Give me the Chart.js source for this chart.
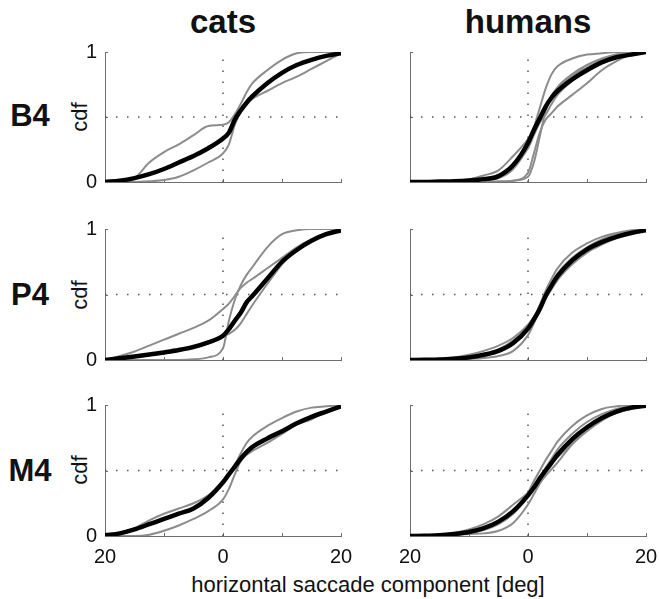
<!DOCTYPE html>
<html>
<head>
<meta charset="utf-8">
<script src="https://cdn.jsdelivr.net/npm/chart.js@4"></script>
<style>
  body { margin: 0; background: #fff; width: 659px; height: 599px; overflow: hidden; position: relative;
         font-family: "Liberation Sans", Arial, sans-serif; color: #111; }
  canvas { position: absolute; }
  .txt { position: absolute; line-height: 1; white-space: nowrap; }
  .head { font-size: 33px; font-weight: bold; width: 200px; text-align: center; }
  .row { font-size: 31px; font-weight: bold; width: 60px; text-align: center; }
  .cdf { font-size: 22px; width: 60px; text-align: center; transform: rotate(-90deg); }
</style>
</head>
<body>
<div class="txt head" style="left:123px; top:5px;">cats</div>
<div class="txt head" style="left:428px; top:5px;">humans</div>

<div class="txt row" style="left:0px; top:100px;">B4</div>
<div class="txt row" style="left:0px; top:279px;">P4</div>
<div class="txt row" style="left:0px; top:455px;">M4</div>

<div class="txt cdf" style="left:50px; top:106px;">cdf</div>
<div class="txt cdf" style="left:50px; top:284px;">cdf</div>
<div class="txt cdf" style="left:50px; top:459px;">cdf</div>

<div class="txt" style="left:168px; width:400px; text-align:center; top:574px; font-size:22px;">horizontal saccade component [deg]</div>

<canvas id="c0" width="303" height="174" style="left:60px; top:30px;"></canvas>
<canvas id="c1" width="283" height="174" style="left:385px; top:30px;"></canvas>
<canvas id="c2" width="303" height="175" style="left:60px; top:207px;"></canvas>
<canvas id="c3" width="283" height="175" style="left:385px; top:207px;"></canvas>
<canvas id="c4" width="303" height="195" style="left:60px; top:383px;"></canvas>
<canvas id="c5" width="283" height="195" style="left:385px; top:383px;"></canvas>

<script>
// saccade component [deg] where the cdf values were read
const xGrid = [-20, -17.5, -15, -12.5, -10, -7.5, -5, -2.5, 0, 1, 2, 3, 4, 5, 7.5, 10, 12.5, 15, 17.5, 20];
const xTickLabels = ['20', '', '0', '', '20'];
const yTickLabels = ['0', '', '1'];
const refX = 0;
const refY = 0.5;

// cats B4
const catsB4Mean = [0, 0.01, 0.03, 0.06, 0.10, 0.15, 0.20, 0.26, 0.335, 0.38, 0.48, 0.55, 0.61, 0.66, 0.76, 0.84, 0.90, 0.94, 0.97, 0.99];
const catsB4A = [0, 0.005, 0.03, 0.15, 0.23, 0.29, 0.36, 0.43, 0.44, 0.46, 0.52, 0.60, 0.69, 0.76, 0.86, 0.94, 0.99, 1, 1, 1];
const catsB4B = [0, 0, 0, 0.005, 0.015, 0.04, 0.09, 0.15, 0.22, 0.29, 0.44, 0.54, 0.60, 0.64, 0.70, 0.76, 0.81, 0.87, 0.93, 0.99];

// humans B4
const humB4Mean = [0, 0, 0.003, 0.006, 0.012, 0.022, 0.045, 0.13, 0.30, 0.40, 0.49, 0.58, 0.65, 0.70, 0.79, 0.86, 0.92, 0.96, 0.98, 1];
const humB4A = [0, 0, 0, 0, 0.005, 0.01, 0.03, 0.10, 0.28, 0.42, 0.57, 0.72, 0.83, 0.89, 0.95, 0.98, 0.99, 1, 1, 1];
const humB4B = [0, 0, 0, 0, 0, 0, 0, 0.01, 0.07, 0.22, 0.38, 0.48, 0.53, 0.58, 0.67, 0.76, 0.86, 0.93, 0.98, 1];
const humB4C = [0, 0, 0.005, 0.01, 0.02, 0.05, 0.09, 0.20, 0.33, 0.40, 0.46, 0.52, 0.60, 0.67, 0.78, 0.86, 0.93, 0.97, 0.99, 1];
const humB4D = [0, 0, 0, 0, 0, 0, 0.005, 0.01, 0.04, 0.15, 0.35, 0.55, 0.66, 0.72, 0.82, 0.88, 0.94, 0.98, 0.99, 1];
const humB4E = [0, 0, 0, 0.005, 0.01, 0.02, 0.04, 0.12, 0.26, 0.36, 0.46, 0.57, 0.66, 0.73, 0.83, 0.90, 0.95, 0.98, 0.99, 1];

// cats P4
const catsP4Mean = [0, 0.013, 0.027, 0.042, 0.058, 0.076, 0.10, 0.135, 0.185, 0.235, 0.30, 0.36, 0.44, 0.49, 0.62, 0.75, 0.84, 0.91, 0.96, 0.99];
const catsP4A = [0, 0.03, 0.065, 0.11, 0.155, 0.20, 0.245, 0.30, 0.39, 0.43, 0.49, 0.55, 0.59, 0.62, 0.70, 0.78, 0.86, 0.92, 0.96, 1];
const catsP4B = [0, 0, 0, 0, 0, 0, 0.005, 0.02, 0.09, 0.30, 0.46, 0.57, 0.65, 0.71, 0.86, 0.96, 0.99, 1, 1, 1];
const catsP4C = [0, 0.01, 0.02, 0.035, 0.05, 0.07, 0.09, 0.13, 0.18, 0.20, 0.23, 0.28, 0.35, 0.42, 0.58, 0.73, 0.85, 0.92, 0.97, 1];

// humans P4
const humP4Mean = [0, 0.001, 0.003, 0.01, 0.02, 0.04, 0.07, 0.13, 0.24, 0.31, 0.39, 0.49, 0.57, 0.64, 0.76, 0.845, 0.90, 0.94, 0.97, 0.99];
const humP4A = [0, 0, 0.002, 0.006, 0.015, 0.03, 0.06, 0.12, 0.24, 0.32, 0.42, 0.53, 0.62, 0.70, 0.82, 0.89, 0.94, 0.97, 0.99, 1];
const humP4B = [0, 0.005, 0.01, 0.02, 0.04, 0.07, 0.11, 0.17, 0.27, 0.33, 0.40, 0.48, 0.56, 0.63, 0.75, 0.83, 0.89, 0.94, 0.97, 0.99];
const humP4C = [0, 0, 0, 0.003, 0.008, 0.015, 0.03, 0.07, 0.19, 0.28, 0.38, 0.49, 0.58, 0.66, 0.78, 0.86, 0.92, 0.96, 0.98, 1];
const humP4D = [0, 0, 0.002, 0.008, 0.02, 0.04, 0.08, 0.15, 0.26, 0.32, 0.39, 0.47, 0.54, 0.61, 0.73, 0.82, 0.88, 0.93, 0.97, 0.99];

// cats M4
const catsM4Mean = [0.005, 0.02, 0.05, 0.09, 0.13, 0.17, 0.21, 0.29, 0.41, 0.47, 0.53, 0.59, 0.64, 0.68, 0.745, 0.80, 0.86, 0.91, 0.95, 0.99];
const catsM4A = [0, 0.02, 0.06, 0.12, 0.17, 0.21, 0.25, 0.31, 0.41, 0.47, 0.54, 0.63, 0.71, 0.76, 0.84, 0.90, 0.95, 0.98, 0.99, 1];
const catsM4B = [0, 0, 0, 0.01, 0.04, 0.08, 0.13, 0.19, 0.28, 0.36, 0.47, 0.57, 0.62, 0.65, 0.71, 0.78, 0.85, 0.89, 0.95, 0.99];

// humans M4
const humM4Mean = [0, 0.002, 0.005, 0.015, 0.03, 0.06, 0.11, 0.19, 0.31, 0.37, 0.44, 0.50, 0.56, 0.62, 0.74, 0.83, 0.90, 0.95, 0.98, 0.995];
const humM4A = [0, 0.001, 0.004, 0.012, 0.025, 0.05, 0.10, 0.18, 0.33, 0.42, 0.50, 0.58, 0.65, 0.72, 0.84, 0.92, 0.97, 0.99, 1, 1];
const humM4B = [0, 0.005, 0.01, 0.025, 0.05, 0.09, 0.15, 0.24, 0.33, 0.38, 0.43, 0.49, 0.55, 0.60, 0.71, 0.81, 0.89, 0.94, 0.97, 0.99];
const humM4C = [0, 0, 0.002, 0.006, 0.015, 0.02, 0.04, 0.10, 0.24, 0.32, 0.40, 0.46, 0.51, 0.56, 0.70, 0.80, 0.88, 0.94, 0.97, 0.99];
const humM4D = [0, 0.001, 0.003, 0.01, 0.02, 0.045, 0.09, 0.17, 0.30, 0.37, 0.45, 0.52, 0.59, 0.66, 0.78, 0.87, 0.93, 0.97, 0.99, 1];

const panels = [
    {id: 'c0', left: true, bottom: false, mean: catsB4Mean, subs: [catsB4A, catsB4B]},
    {id: 'c1', left: false, bottom: false, mean: humB4Mean, subs: [humB4A, humB4B, humB4C, humB4D, humB4E]},
    {id: 'c2', left: true, bottom: false, mean: catsP4Mean, subs: [catsP4A, catsP4B, catsP4C]},
    {id: 'c3', left: false, bottom: false, mean: humP4Mean, subs: [humP4A, humP4B, humP4C, humP4D]},
    {id: 'c4', left: true, bottom: true, mean: catsM4Mean, subs: [catsM4A, catsM4B]},
    {id: 'c5', left: false, bottom: true, mean: humM4Mean, subs: [humM4A, humM4B, humM4C, humM4D]}
];

const axisColor = '#6e6e6e';
const font = {family: '"Liberation Sans", Arial, sans-serif', size: 20};

function toPoints(ys) {
    return xGrid.map((x, i) => ({x: x, y: ys[i]}));
}

// MATLAB style ticks pointing into the axes
const inwardTicks = {
    id: 'inwardTicks',
    beforeDatasetsDraw(chart) {
        const {ctx, chartArea, scales} = chart;
        ctx.save();
        ctx.strokeStyle = axisColor;
        ctx.lineWidth = 1;
        ctx.beginPath();
        scales.x.ticks.forEach(t => {
            const px = Math.round(scales.x.getPixelForValue(t.value)) + 0.5;
            ctx.moveTo(px, chartArea.bottom);
            ctx.lineTo(px, chartArea.bottom - 3);
        });
        scales.y.ticks.forEach(t => {
            const py = Math.round(scales.y.getPixelForValue(t.value)) + 0.5;
            ctx.moveTo(chartArea.left, py);
            ctx.lineTo(chartArea.left + 3, py);
        });
        ctx.stroke();
        ctx.restore();
    }
};

panels.forEach(p => {
    var datasets = [];
    datasets.push({
        data: toPoints(p.mean),
        borderColor: '#000',
        borderWidth: 4.5,
        pointRadius: 0,
        cubicInterpolationMode: 'monotone'
    });
    p.subs.forEach(s => {
        datasets.push({
            data: toPoints(s),
            borderColor: '#8c8c8c',
            borderWidth: 2,
            pointRadius: 0,
            cubicInterpolationMode: 'monotone'
        });
    });
    datasets.push({
        data: [{x: -20, y: refY}, {x: 20, y: refY}],
        borderColor: '#555',
        borderWidth: 1.5,
        borderDash: [1.5, 9.5],
        pointRadius: 0
    });
    datasets.push({
        data: [{x: refX, y: 0}, {x: refX, y: 1}],
        borderColor: '#555',
        borderWidth: 1.5,
        borderDash: [1.5, 9.5],
        pointRadius: 0
    });

    new Chart(document.getElementById(p.id), {
        type: 'line',
        data: {datasets: datasets},
        options: {
            responsive: false,
            animation: false,
            devicePixelRatio: 1,
            layout: {padding: {top: 22, right: 22, left: 0, bottom: 0}},
            plugins: {legend: {display: false}, tooltip: {enabled: false}},
            scales: {
                x: {
                    type: 'linear',
                    min: -20,
                    max: 20,
                    grid: {display: false, drawTicks: false},
                    border: {display: true, color: axisColor, width: 1},
                    ticks: {
                        display: p.bottom,
                        stepSize: 10,
                        autoSkip: false,
                        maxRotation: 0,
                        padding: 9,
                        color: '#111',
                        font: font,
                        callback: (v, i) => xTickLabels[i]
                    },
                    afterFit: scale => { scale.height = p.bottom ? 42 : 22; }
                },
                y: {
                    type: 'linear',
                    min: 0,
                    max: 1,
                    grid: {display: false, drawTicks: false},
                    border: {display: true, color: axisColor, width: 1},
                    ticks: {
                        display: p.left,
                        stepSize: 0.5,
                        autoSkip: false,
                        padding: 8,
                        color: '#111',
                        font: font,
                        callback: (v, i) => yTickLabels[i]
                    },
                    afterFit: scale => { scale.width = p.left ? 45 : 25; }
                }
            }
        },
        plugins: [inwardTicks]
    });
});
</script>
</body>
</html>
